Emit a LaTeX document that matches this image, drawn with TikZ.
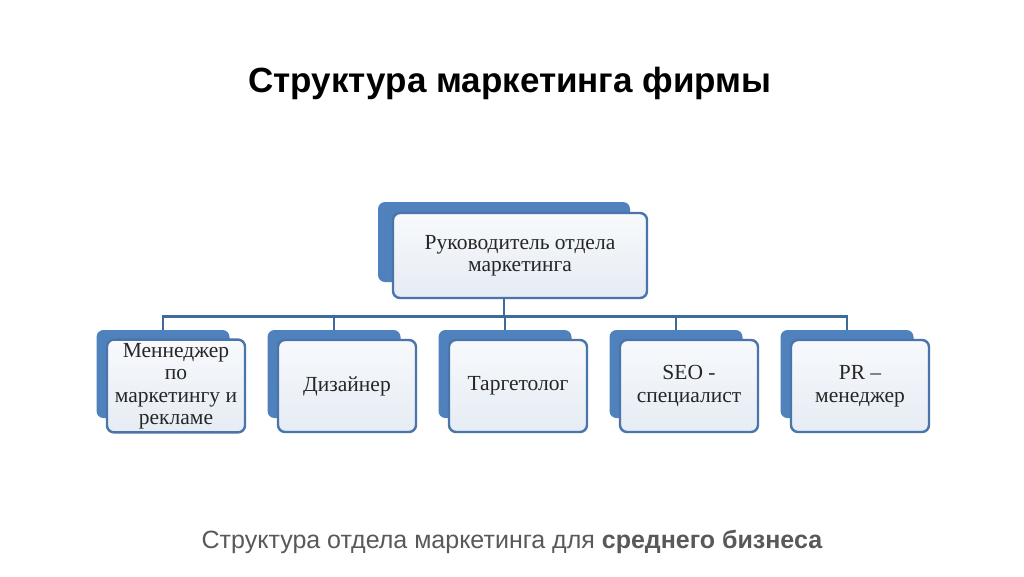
\documentclass[tikz,border=0pt]{standalone}
\usepackage{fontspec}
\setmainfont{Liberation Serif}
\newfontfamily\headfont{Liberation Sans}
\usepackage{tikz}

\definecolor{shadeblue}{HTML}{4F81BD}
\definecolor{edgeblue}{HTML}{4A75AA}
\definecolor{linkblue}{HTML}{3E6A9E}
\definecolor{cardtop}{HTML}{F7F9FC}
\definecolor{cardbottom}{HTML}{E6ECF4}
\definecolor{cardtext}{HTML}{262626}
\definecolor{captiongray}{HTML}{595959}

\begin{document}
\begin{tikzpicture}[x=1pt, y=-1pt,
                    shade node/.style={rectangle, rounded corners=7pt, fill=shadeblue,
                                       minimum width=133pt, minimum height=88pt},
                    card node/.style={rectangle, rounded corners=7pt, draw=edgeblue, line width=2.4pt,
                                      top color=cardtop, bottom color=cardbottom,
                                      minimum width=138pt, minimum height=92pt, align=center,
                                      text=cardtext, font=\fontsize{21.5}{22.5}\selectfont,
                                      xshift=13pt, yshift=-12pt},
                    link/.style={draw=linkblue, line width=2.8pt}]

  \fill[white] (0,0) rectangle (1024,576);
  \useasboundingbox (0,0) rectangle (1024,576);

  \node[font=\headfont\bfseries\fontsize{35}{40}\selectfont, anchor=base] (title) at (510,92)
    {Структура маркетинга фирмы};

  % back plates
  \node[shade node, minimum width=252pt, minimum height=80pt] (s0) at (504,242) {};
  \node[shade node] (s1) at (163,374) {};
  \node[shade node] (s2) at (334,374) {};
  \node[shade node] (s3) at (505,374) {};
  \node[shade node] (s4) at (676,374) {};
  \node[shade node] (s5) at (847,374) {};

  % connectors
  \draw[link] (s0.south) -- ++(0,34) coordinate (fork);
  \draw[link] (s1.north) |- (fork) -| (s5.north);
  \path[link]
    (fork -| s2.north) edge (s2.north)
    (fork -| s3.north) edge (s3.north)
    (fork -| s4.north) edge (s4.north);

  % cards
  \node[card node, minimum width=254pt, minimum height=85pt, xshift=3pt, yshift=-1.5pt] (0) at (s0)
    {Руководитель отдела\\маркетинга};
  \node[card node] (1) at (s1) {Меннеджер\\по\\маркетингу и\\рекламе};
  \node[card node] (2) at (s2) {Дизайнер};
  \node[card node] (3) at (s3) {Таргетолог};
  \node[card node] (4) at (s4) {SEO -\\специалист};
  \node[card node] (5) at (s5) {PR –\\менеджер};

  \node[font=\headfont\fontsize{25}{30}\selectfont, text=captiongray, anchor=base] (caption) at (512,548)
    {Структура отдела маркетинга для \textbf{среднего бизнеса}};
\end{tikzpicture}
\end{document}
